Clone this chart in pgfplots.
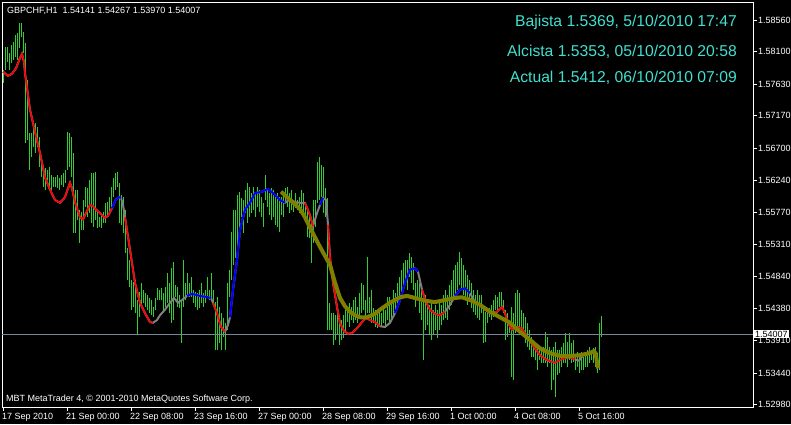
\documentclass[border=0pt]{standalone}
\usepackage{pgfplots}
\pgfplotsset{compat=1.18}
\usepackage{pgfplotstable}
\usepackage{fontspec}
\setmainfont{Liberation Sans}
\definecolor{barg}{RGB}{50,205,50}
\definecolor{turq}{RGB}{64,224,208}
\definecolor{lsg}{RGB}{119,136,153}
\definecolor{olv}{RGB}{128,128,0}
\definecolor{mgray}{RGB}{128,128,128}

\pgfplotstableread{
i h l
0 1.5784 1.5765
1 1.5817 1.5784
2 1.5817 1.5795
3 1.5808 1.5784
4 1.5820 1.5794
5 1.5824 1.5798
6 1.5834 1.5802
7 1.5837 1.5798
8 1.5852 1.5815
9 1.5852 1.5831
10 1.5839 1.5808
11 1.5823 1.5678
12 1.5769 1.5682
13 1.5692 1.5639
14 1.5692 1.5657
15 1.5707 1.5672
16 1.5707 1.5663
17 1.5701 1.5672
18 1.5686 1.5643
19 1.5657 1.5628
20 1.5634 1.5614
21 1.5641 1.5610
22 1.5639 1.5624
23 1.5643 1.5614
24 1.5631 1.5610
25 1.5628 1.5614
26 1.5628 1.5614
27 1.5631 1.5612
28 1.5627 1.5610
29 1.5631 1.5617
30 1.5634 1.5614
31 1.5639 1.5620
32 1.5694 1.5639
33 1.5692 1.5643
34 1.5686 1.5628
35 1.5663 1.5547
36 1.5610 1.5547
37 1.5610 1.5566
38 1.5581 1.5533
39 1.5578 1.5552
40 1.5595 1.5552
41 1.5614 1.5585
42 1.5612 1.5570
43 1.5624 1.5576
44 1.5634 1.5562
45 1.5634 1.5556
46 1.5636 1.5566
47 1.5581 1.5554
48 1.5570 1.5556
49 1.5576 1.5554
50 1.5578 1.5562
51 1.5591 1.5562
52 1.5592 1.5570
53 1.5599 1.5576
54 1.5614 1.5585
55 1.5627 1.5599
56 1.5634 1.5610
57 1.5636 1.5614
58 1.5620 1.5562
59 1.5602 1.5559
60 1.5599 1.5547
61 1.5581 1.5518
62 1.5525 1.5479
63 1.5508 1.5469
64 1.5479 1.5436
65 1.5476 1.5440
66 1.5479 1.5431
67 1.5450 1.5399
68 1.5462 1.5425
69 1.5475 1.5440
70 1.5465 1.5446
71 1.5460 1.5440
72 1.5457 1.5436
73 1.5453 1.5431
74 1.5450 1.5428
75 1.5440 1.5425
76 1.5453 1.5436
77 1.5467 1.5450
78 1.5465 1.5450
79 1.5467 1.5450
80 1.5460 1.5436
81 1.5469 1.5440
82 1.5489 1.5446
83 1.5475 1.5431
84 1.5496 1.5417
85 1.5505 1.5421
86 1.5472 1.5454
87 1.5469 1.5440
88 1.5457 1.5438
89 1.5450 1.5388
90 1.5508 1.5440
91 1.5475 1.5450
92 1.5489 1.5457
93 1.5475 1.5454
94 1.5483 1.5454
95 1.5465 1.5446
96 1.5462 1.5440
97 1.5460 1.5436
98 1.5465 1.5438
99 1.5475 1.5446
100 1.5460 1.5440
101 1.5465 1.5446
102 1.5483 1.5454
103 1.5465 1.5450
104 1.5489 1.5454
105 1.5465 1.5443
106 1.5447 1.5378
107 1.5454 1.5378
108 1.5440 1.5388
109 1.5431 1.5378
110 1.5424 1.5396
111 1.5417 1.5378
112 1.5475 1.5407
113 1.5494 1.5454
114 1.5549 1.5479
115 1.5581 1.5501
116 1.5581 1.5511
117 1.5602 1.5530
118 1.5607 1.5556
119 1.5598 1.5570
120 1.5595 1.5547
121 1.5610 1.5576
122 1.5620 1.5562
123 1.5614 1.5570
124 1.5605 1.5576
125 1.5614 1.5581
126 1.5605 1.5570
127 1.5614 1.5585
128 1.5610 1.5578
129 1.5599 1.5570
130 1.5591 1.5556
131 1.5631 1.5595
132 1.5610 1.5585
133 1.5605 1.5573
134 1.5612 1.5566
135 1.5610 1.5570
136 1.5599 1.5559
137 1.5605 1.5556
138 1.5599 1.5549
139 1.5599 1.5573
140 1.5605 1.5570
141 1.5612 1.5591
142 1.5614 1.5585
143 1.5605 1.5576
144 1.5610 1.5581
145 1.5595 1.5578
146 1.5605 1.5583
147 1.5595 1.5581
148 1.5599 1.5576
149 1.5610 1.5583
150 1.5605 1.5578
151 1.5585 1.5566
152 1.5583 1.5541
153 1.5570 1.5540
154 1.5562 1.5504
155 1.5595 1.5533
156 1.5595 1.5556
157 1.5650 1.5591
158 1.5657 1.5595
159 1.5646 1.5599
160 1.5643 1.5576
161 1.5612 1.5570
162 1.5598 1.5407
163 1.5446 1.5407
164 1.5431 1.5407
165 1.5431 1.5385
166 1.5428 1.5392
167 1.5436 1.5399
168 1.5424 1.5385
169 1.5421 1.5392
170 1.5428 1.5395
171 1.5436 1.5404
172 1.5440 1.5418
173 1.5446 1.5411
174 1.5440 1.5421
175 1.5450 1.5417
176 1.5454 1.5421
177 1.5440 1.5417
178 1.5460 1.5425
179 1.5475 1.5431
180 1.5472 1.5436
181 1.5450 1.5425
182 1.5512 1.5431
183 1.5454 1.5431
184 1.5465 1.5417
185 1.5438 1.5417
186 1.5436 1.5411
187 1.5431 1.5409
188 1.5436 1.5411
189 1.5431 1.5411
190 1.5440 1.5417
191 1.5436 1.5411
192 1.5454 1.5421
193 1.5454 1.5417
194 1.5450 1.5421
195 1.5465 1.5425
196 1.5460 1.5431
197 1.5475 1.5446
198 1.5483 1.5450
199 1.5494 1.5460
200 1.5504 1.5469
201 1.5508 1.5475
202 1.5508 1.5465
203 1.5518 1.5483
204 1.5512 1.5475
205 1.5504 1.5465
206 1.5475 1.5440
207 1.5479 1.5450
208 1.5475 1.5431
209 1.5465 1.5421
210 1.5450 1.5363
211 1.5457 1.5407
212 1.5450 1.5414
213 1.5443 1.5399
214 1.5450 1.5392
215 1.5436 1.5399
216 1.5443 1.5407
217 1.5436 1.5395
218 1.5450 1.5407
219 1.5443 1.5414
220 1.5457 1.5421
221 1.5465 1.5424
222 1.5457 1.5421
223 1.5472 1.5436
224 1.5479 1.5443
225 1.5494 1.5450
226 1.5501 1.5457
227 1.5505 1.5465
228 1.5520 1.5472
229 1.5511 1.5465
230 1.5501 1.5457
231 1.5494 1.5450
232 1.5486 1.5443
233 1.5479 1.5450
234 1.5475 1.5438
235 1.5465 1.5433
236 1.5457 1.5428
237 1.5465 1.5424
238 1.5457 1.5421
239 1.5457 1.5431
240 1.5440 1.5388
241 1.5433 1.5389
242 1.5436 1.5417
243 1.5438 1.5425
244 1.5443 1.5421
245 1.5450 1.5425
246 1.5457 1.5436
247 1.5454 1.5431
248 1.5462 1.5440
249 1.5462 1.5440
250 1.5450 1.5431
251 1.5436 1.5392
252 1.5431 1.5396
253 1.5421 1.5402
254 1.5440 1.5338
255 1.5431 1.5334
256 1.5460 1.5402
257 1.5465 1.5411
258 1.5460 1.5411
259 1.5436 1.5407
260 1.5431 1.5407
261 1.5425 1.5388
262 1.5417 1.5382
263 1.5407 1.5378
264 1.5396 1.5367
265 1.5392 1.5367
266 1.5385 1.5363
267 1.5382 1.5349
268 1.5378 1.5363
269 1.5378 1.5359
270 1.5382 1.5359
271 1.5404 1.5359
272 1.5396 1.5353
273 1.5382 1.5359
274 1.5378 1.5320
275 1.5382 1.5334
276 1.5389 1.5309
277 1.5378 1.5341
278 1.5378 1.5344
279 1.5382 1.5353
280 1.5388 1.5359
281 1.5402 1.5359
282 1.5389 1.5353
283 1.5402 1.5363
284 1.5388 1.5359
285 1.5392 1.5360
286 1.5367 1.5349
287 1.5375 1.5353
288 1.5373 1.5344
289 1.5375 1.5349
290 1.5367 1.5349
291 1.5373 1.5353
292 1.5378 1.5353
293 1.5382 1.5359
294 1.5378 1.5363
295 1.5380 1.5359
296 1.5382 1.5353
297 1.5373 1.5344
298 1.5417 1.5349
299 1.5427 1.5397
}\bars

\pgfplotstableread{
i p
0 1.5781
2.5 1.5775
4.5 1.5778
6.5 1.5786
8.5 1.5801
9.5 1.5807
10.5 1.5795
11 1.5779
13.5 1.5726
16 1.5694
18.5 1.5663
21 1.5628
23.5 1.5610
26 1.5595
28.5 1.5591
31 1.5599
32.5 1.5612
33.5 1.5620
34.5 1.5612
36 1.5592
38.5 1.5570
40 1.5567
41.5 1.5576
43.5 1.5588
45 1.5586
46.5 1.5581
48.5 1.5576
51 1.5569
52.5 1.5572
54.5 1.5583
56.5 1.5596
58 1.5599
59 1.5598
60 1.5588
61 1.5570
63.5 1.5523
66 1.5475
68.5 1.5446
71 1.5431
73.5 1.5418
75 1.5417
77 1.5421
78.5 1.5428
81 1.5436
83.5 1.5446
85.5 1.5453
87.5 1.5446
89.5 1.5450
92 1.5456
94.5 1.5459
98.5 1.5456
102.5 1.5454
104 1.5453
105 1.5446
107 1.5431
109 1.5411
111 1.5404
112.5 1.5414
113.5 1.5425
115 1.5465
117 1.5508
118.5 1.5552
121 1.5581
123.5 1.5591
126 1.5605
129.5 1.5607
132.5 1.5611
135 1.5605
138.5 1.5595
141 1.5591
143.5 1.5596
146 1.5592
148.5 1.5591
151 1.5591
153.5 1.5573
155 1.5557
157 1.5576
158.5 1.5588
160 1.5598
161.5 1.5595
162.5 1.5559
163.5 1.5512
165 1.5475
167 1.5440
168.5 1.5417
170.5 1.5405
172.5 1.5401
174.5 1.5402
177 1.5409
179.5 1.5418
181.5 1.5424
183.5 1.5421
186 1.5418
188.5 1.5412
191 1.5411
193.5 1.5417
196 1.5431
198.5 1.5450
201 1.5475
203.5 1.5494
206 1.5496
207.5 1.5491
209.5 1.5465
211.5 1.5447
213.5 1.5436
216 1.5430
218.5 1.5428
221 1.5433
223.5 1.5443
226 1.5456
228.5 1.5465
231 1.5467
233.5 1.5460
236 1.5447
238.5 1.5444
241 1.5436
243.5 1.5431
247 1.5433
249.5 1.5440
251 1.5431
252.5 1.5417
254.5 1.5407
257 1.5411
259.5 1.5409
262.5 1.5395
266 1.5380
268.5 1.5370
272 1.5363
276 1.5359
278.5 1.5363
281 1.5366
283.5 1.5367
286 1.5364
288 1.5362
290 1.5370
293.5 1.5375
296 1.5375
297 1.5373
}\ind

\pgfplotstableread{
i p
139 1.5607
141 1.5602
143.5 1.5595
146 1.5589
148.5 1.5582
151 1.5570
153.5 1.5555
156 1.5541
158.5 1.5527
161 1.5514
163.5 1.5501
166 1.5475
168.5 1.5453
171 1.5441
173.5 1.5433
176 1.5428
178.5 1.5425
182 1.5425
186 1.5430
188.5 1.5436
193.5 1.5446
198.5 1.5454
202 1.5456
206 1.5453
211 1.5449
216 1.5447
221 1.5450
226 1.5453
229.5 1.5454
233.5 1.5450
238.5 1.5443
243.5 1.5433
248.5 1.5425
253.5 1.5417
258.5 1.5404
263.5 1.5392
268.5 1.5380
273.5 1.5373
278.5 1.5369
283.5 1.5369
288.5 1.5370
293.5 1.5373
295.5 1.5376
296.5 1.5369
297.5 1.5351
}\olive

\begin{document}
\begin{tikzpicture}[x=1pt,y=1pt]
\fill[black] (0,0) rectangle (791,424);
\useasboundingbox (0,0) rectangle (791,424);
\begin{axis}[
  at={(2pt,17pt)}, anchor=south west,
  scale only axis, width=751pt, height=405pt,
  xmin=-0.5, xmax=375, ymin=1.52949, ymax=1.58821,
  axis line style={white, line width=0.8pt},
  tick style={white, line width=0.8pt},
  tick align=outside, major tick length=4pt,
  xtick pos=bottom, ytick pos=right,
  xtick={0,32,64,96,128,160,192,224,256,288},
  xticklabels={17 Sep 2010,21 Sep 00:00,22 Sep 08:00,23 Sep 16:00,27 Sep 00:00,28 Sep 08:00,29 Sep 16:00,1 Oct 00:00,4 Oct 08:00,5 Oct 16:00},
  ytick={1.5298,1.5344,1.5391,1.5438,1.5484,1.5531,1.5577,1.5624,1.5670,1.5717,1.5763,1.5810,1.5856},
  yticklabels={1.52980,1.53440,1.53910,1.54380,1.54840,1.55310,1.55770,1.56240,1.56700,1.57170,1.57630,1.58100,1.58560},
  xticklabel style={font=\fontsize{9}{10}\selectfont, text=white, anchor=north west, xshift=-2pt, yshift=-1.5pt, inner sep=1pt},
  yticklabel style={font=\fontsize{9}{10}\selectfont, text=white, anchor=west, inner sep=1pt, xshift=0pt},
  clip=true,
]
\addplot[draw=none, mark=none, forget plot,
  error bars/.cd, y dir=minus, y explicit, error mark=none,
  error bar style={draw=barg, line width=1pt, solid}]
  table[x=i, y=h, y error expr=\thisrow{h}-\thisrow{l}] {\bars};
\addplot[lsg, line width=1pt] coordinates {(-0.5,1.54007) (375,1.54007)};
\addplot[mgray, line width=2pt] table[x=i,y=p] {\ind};
\addplot[red, line width=1.6pt, restrict x to domain=0:54.5] table[x=i,y=p] {\ind};
\addplot[blue, line width=2pt, restrict x to domain=54.5:59] table[x=i,y=p] {\ind};
\addplot[red, line width=1.6pt, restrict x to domain=61:75] table[x=i,y=p] {\ind};
\addplot[blue, line width=2pt, restrict x to domain=92:104] table[x=i,y=p] {\ind};
\addplot[red, line width=1.6pt, restrict x to domain=105:111] table[x=i,y=p] {\ind};
\addplot[blue, line width=2pt, restrict x to domain=113.5:141] table[x=i,y=p] {\ind};
\addplot[red, line width=1.6pt, restrict x to domain=151:155] table[x=i,y=p] {\ind};
\addplot[blue, line width=2pt, restrict x to domain=158.5:160] table[x=i,y=p] {\ind};
\addplot[red, line width=1.6pt, restrict x to domain=162.5:188.5] table[x=i,y=p] {\ind};
\addplot[blue, line width=2pt, restrict x to domain=196:207.5] table[x=i,y=p] {\ind};
\addplot[red, line width=1.6pt, restrict x to domain=209.5:221] table[x=i,y=p] {\ind};
\addplot[blue, line width=2pt, restrict x to domain=226:233.5] table[x=i,y=p] {\ind};
\addplot[red, line width=1.6pt, restrict x to domain=238.5:286] table[x=i,y=p] {\ind};
\addplot[red, line width=1.6pt, restrict x to domain=290:297] table[x=i,y=p] {\ind};
\addplot[olv, line width=4pt, line join=round] table[x=i,y=p] {\olive};
\coordinate (pl) at (axis cs:375,1.54007);
\end{axis}
\node[fill=white, text=black, anchor=west, inner sep=1pt, font=\fontsize{9}{10}\selectfont, xshift=1pt] at (pl) {1.54007};
\node[anchor=west, text=white, font=\fontsize{9}{10}\selectfont, inner sep=0pt] at (7,413.5) {GBPCHF,H1\ \ 1.54141 1.54267 1.53970 1.54007};
\node[anchor=west, text=white, font=\fontsize{9}{10}\selectfont, inner sep=0pt] at (6,25) {MBT MetaTrader 4, \textcopyright{} 2001-2010 MetaQuotes Software Corp.};
\node[anchor=east, text=turq, font=\fontsize{15.7}{17}\selectfont, inner sep=0pt] at (737,402) {Bajista 1.5369, 5/10/2010 17:47};
\node[anchor=east, text=turq, font=\fontsize{15.7}{17}\selectfont, inner sep=0pt] at (737,372) {Alcista 1.5353, 05/10/2010 20:58};
\node[anchor=east, text=turq, font=\fontsize{15.7}{17}\selectfont, inner sep=0pt] at (737,346) {Actual 1.5412, 06/10/2010 07:09};
\end{tikzpicture}
\end{document}
